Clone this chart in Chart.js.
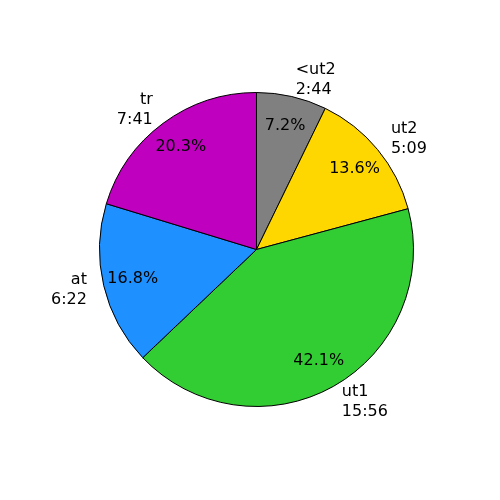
<!DOCTYPE html>
<html>
<head>
<meta charset="utf-8">
<script src="https://cdn.jsdelivr.net/npm/chart.js@4/dist/chart.umd.min.js"></script>
<style>
  html, body { margin: 0; padding: 0; background: #ffffff; }
  #c { display: block; }
</style>
</head>
<body>
<canvas id="c" width="500" height="500"></canvas>
<script>
// Data (clockwise from the top)
const categories = ['<ut2', 'ut2', 'ut1', 'at', 'tr'];
const seconds = [164, 309, 956, 382, 461];   // 2:44, 5:09, 15:56, 6:22, 7:41
const colors = ['#808080', '#FFD700', '#32CD32', '#1E90FF', '#BF00BF'];

function fmtTime(s) {
  const m = Math.floor(s / 60);
  const r = s % 60;
  return m + ':' + (r < 10 ? '0' : '') + r;
}

const FONT_PX = 16;
const FONT = FONT_PX + 'px "DejaVu Sans", sans-serif';
const LINE_H = FONT_PX * 1.25;

const labelPlugin = {
  id: 'pieLabels',
  afterDatasetsDraw(chart) {
    const ctx = chart.ctx;
    const meta = chart.getDatasetMeta(0);
    const data = chart.data.datasets[0].data;
    const total = data.reduce((a, b) => a + b, 0);
    ctx.save();
    ctx.font = FONT;
    ctx.fillStyle = '#000';
    ctx.textBaseline = 'middle';
    meta.data.forEach((arc, i) => {
      const p = arc.getProps(['x', 'y', 'startAngle', 'endAngle', 'outerRadius'], true);
      const mid = (p.startAngle + p.endAngle) / 2;
      const cx = Math.cos(mid), cy = Math.sin(mid);
      // percentage inside
      const pr = p.outerRadius * 0.81;
      ctx.textAlign = 'center';
      ctx.fillText((data[i] / total * 100).toFixed(1) + '%', p.x + cx * pr, p.y + cy * pr);
      // outside label
      const lr = p.outerRadius * 1.11;
      const lx = p.x + cx * lr, ly = p.y + cy * lr;
      ctx.textAlign = cx >= 0 ? 'left' : 'right';
      const lines = [categories[i], fmtTime(data[i])];
      const startY = ly - (lines.length - 1) * LINE_H / 2;
      lines.forEach((t, k) => ctx.fillText(t, lx, startY + k * LINE_H));
    });
    ctx.restore();
  }
};

new Chart(document.getElementById('c'), {
  type: 'pie',
  data: {
    labels: categories,
    datasets: [{
      data: seconds,
      backgroundColor: colors,
      borderColor: '#000000',
      borderWidth: 1
    }]
  },
  options: {
    responsive: false,
    animation: false,
    devicePixelRatio: 1,
    layout: { padding: { left: 99, right: 86, top: 92, bottom: 93 } },
    plugins: {
      legend: { display: false },
      tooltip: { enabled: false }
    }
  },
  plugins: [labelPlugin]
});
</script>
</body>
</html>
